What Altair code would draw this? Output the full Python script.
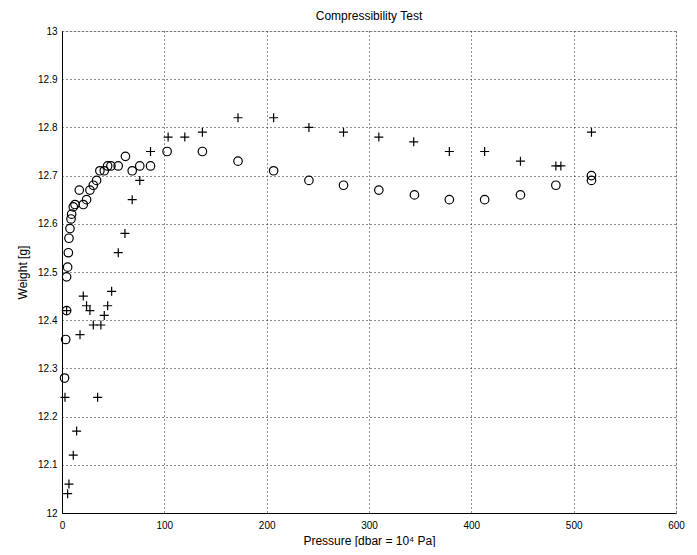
import altair as alt
import pandas as pd

# Series "o" (circles)
circ_p = [2.5, 3.6, 4.5, 4.5, 5.5, 6.2, 6.8, 7.8, 8.8, 9.4, 11.0, 12.7, 16.9, 20.8, 24.0, 27.3,
          30.6, 33.8, 37.0, 41.3, 44.6, 47.8, 54.9, 62.0, 68.6, 76.0, 86.5, 102.7, 137.2,
          172.0, 206.8, 241.3, 275.1, 309.6, 344.4, 378.5, 413.0, 448.0, 482.6, 517.4, 517.4]
circ_w = [12.28, 12.36, 12.42, 12.49, 12.51, 12.54, 12.57, 12.59, 12.61, 12.62, 12.635, 12.64,
          12.67, 12.64, 12.65, 12.67, 12.68, 12.69, 12.71, 12.71, 12.72, 12.72, 12.72, 12.74,
          12.71, 12.72, 12.72, 12.75, 12.75, 12.73, 12.71, 12.69, 12.68, 12.67, 12.66, 12.65,
          12.65, 12.66, 12.68, 12.70, 12.69]

# Series "+" (crosses)
plus_p = [2.9, 4.5, 5.5, 6.8, 11.0, 14.3, 17.6, 20.8, 24.0, 27.3, 30.6, 34.8, 38.0, 41.3,
          44.6, 48.5, 55.0, 61.5, 68.6, 76.0, 86.5, 103.7, 120.0, 137.2, 172.0, 206.8, 241.3,
          275.1, 309.6, 343.7, 378.5, 413.0, 448.0, 482.6, 487.5, 517.4]
plus_w = [12.24, 12.42, 12.04, 12.06, 12.12, 12.17, 12.37, 12.45, 12.43, 12.42, 12.39, 12.24,
          12.39, 12.41, 12.43, 12.46, 12.54, 12.58, 12.65, 12.69, 12.75, 12.78, 12.78, 12.79,
          12.82, 12.82, 12.80, 12.79, 12.78, 12.77, 12.75, 12.75, 12.73, 12.72, 12.72, 12.79]

x_ticks = [0, 100, 200, 300, 400, 500, 600]
y_ticks = [12.0, 12.1, 12.2, 12.3, 12.4, 12.5, 12.6, 12.7, 12.8, 12.9, 13.0]

circ_df = pd.DataFrame({"p": circ_p, "w": circ_w})
plus_df = pd.DataFrame({"p": plus_p, "w": plus_w})

FONT = "Liberation Sans"

x_enc = alt.X("p:Q", scale=alt.Scale(domain=[0, 600], nice=False),
              axis=alt.Axis(values=x_ticks, title="Pressure [dbar = 10⁴ Pa]",
                            grid=True, gridDash=[1, 3], gridColor="black", gridOpacity=0.9,
                            tickSize=0, labelPadding=7, titlePadding=5,
                            domainColor="black", labelFlush=False,
                            titleFontWeight="normal", titleFont=FONT, titleFontSize=12))
y_enc = alt.Y("w:Q", scale=alt.Scale(domain=[12, 13], nice=False, zero=False),
              axis=alt.Axis(values=y_ticks, format=".1~f", title="Weight [g]",
                            grid=True, gridDash=[1, 3], gridColor="black", gridOpacity=0.9,
                            tickSize=0, labelPadding=5, titlePadding=8,
                            domainColor="black", labelFlush=False,
                            titleFontWeight="normal", titleFont=FONT, titleFontSize=12))

circles = alt.Chart(circ_df).mark_point(
    shape="circle", filled=False, color="black", size=72, strokeWidth=1.2, opacity=1
).encode(x=x_enc, y=y_enc)

plus = alt.Chart(plus_df).mark_point(
    shape="M-1,0H1M0,-1V1", filled=False, color="black", size=81, strokeWidth=1.2, opacity=1
).encode(x=x_enc, y=y_enc)

chart = alt.layer(circles, plus).properties(
    width=614, height=482,
    title=alt.Title("Compressibility Test", fontSize=12, font=FONT, fontWeight="normal",
                    offset=3, color="black"),
    autosize=alt.AutoSizeParams(type="none"),
    padding={"left": 54, "top": 23, "right": 13, "bottom": 34},
).configure_view(
    stroke="black", strokeWidth=1.2
).configure_axis(
    labelFont=FONT, titleFont=FONT, labelFontSize=12, titleFontSize=12,
    labelColor="black", titleColor="black", titleFontWeight="normal"
).configure(background="white")

chart.save("out.html", embed_options={"renderer": "svg", "actions": False})
